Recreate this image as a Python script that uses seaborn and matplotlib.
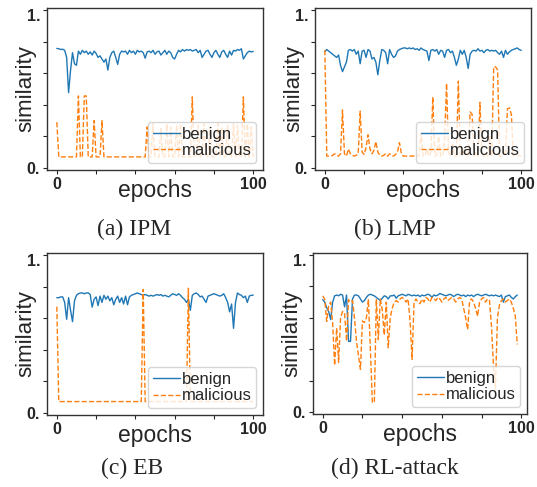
import matplotlib
matplotlib.use("Agg")
import matplotlib.pyplot as plt
import matplotlib.transforms as mtransforms
import seaborn as sns
import pandas as pd

# ---------------- data ----------------
epochs_101 = list(range(101))
epochs_99 = list(range(99))

ipm_benign = [0.757, 0.755, 0.75, 0.752, 0.745, 0.70, 0.477, 0.62, 0.73, 0.66, 0.65, 0.74, 0.72, 0.745, 0.73, 0.74, 0.72, 0.735, 0.715, 0.74,
              0.725, 0.70, 0.71, 0.69, 0.67, 0.69, 0.62, 0.70, 0.73, 0.74, 0.70, 0.656, 0.72, 0.74, 0.735, 0.74, 0.72, 0.745, 0.73, 0.74,
              0.72, 0.745, 0.735, 0.74, 0.73, 0.695, 0.735, 0.74, 0.73, 0.745, 0.72, 0.735, 0.74, 0.715, 0.73, 0.745, 0.72, 0.74, 0.73, 0.70,
              0.69, 0.72, 0.745, 0.735, 0.75, 0.74, 0.75, 0.745, 0.75, 0.74, 0.745, 0.75, 0.73, 0.745, 0.70, 0.72, 0.74, 0.745, 0.72, 0.70,
              0.73, 0.745, 0.72, 0.70, 0.735, 0.745, 0.72, 0.70, 0.74, 0.715, 0.745, 0.74, 0.75, 0.745, 0.755, 0.69, 0.71, 0.73, 0.74, 0.735,
              0.738]
ipm_malicious = [0.29, 0.07, 0.07, 0.07, 0.07, 0.07, 0.07, 0.07, 0.07, 0.07, 0.07, 0.456, 0.07, 0.07, 0.456, 0.456, 0.07, 0.07, 0.07, 0.30,
                 0.07, 0.07, 0.07, 0.30, 0.07, 0.07, 0.07, 0.07, 0.07, 0.07, 0.07, 0.07, 0.07, 0.07, 0.07, 0.07, 0.07, 0.07, 0.07, 0.07,
                 0.07, 0.07, 0.07, 0.07, 0.07, 0.07, 0.26, 0.07, 0.07, 0.28, 0.07, 0.07, 0.07, 0.25, 0.07, 0.07, 0.28, 0.07, 0.26, 0.07,
                 0.07, 0.27, 0.07, 0.28, 0.07, 0.07, 0.07, 0.07, 0.07, 0.45, 0.07, 0.07, 0.27, 0.07, 0.07, 0.28, 0.07, 0.07, 0.26, 0.07,
                 0.07, 0.07, 0.28, 0.07, 0.26, 0.07, 0.07, 0.27, 0.07, 0.07, 0.28, 0.07, 0.27, 0.07, 0.07, 0.45, 0.07, 0.28, 0.07, 0.26,
                 0.07]

lmp_benign = [0.736, 0.75, 0.74, 0.73, 0.72, 0.71, 0.70, 0.715, 0.65, 0.61, 0.64, 0.67, 0.745, 0.75, 0.74, 0.75, 0.72, 0.74, 0.66, 0.74,
              0.745, 0.70, 0.75, 0.74, 0.69, 0.70, 0.67, 0.59, 0.68, 0.75, 0.745, 0.73, 0.66, 0.75, 0.72, 0.70, 0.71, 0.74, 0.75, 0.755,
              0.76, 0.76, 0.755, 0.76, 0.755, 0.76, 0.75, 0.755, 0.745, 0.76, 0.75, 0.745, 0.74, 0.68, 0.745, 0.75, 0.74, 0.75, 0.72, 0.745,
              0.74, 0.70, 0.745, 0.75, 0.73, 0.74, 0.70, 0.65, 0.69, 0.745, 0.72, 0.745, 0.70, 0.63, 0.72, 0.74, 0.745, 0.74, 0.755, 0.74,
              0.745, 0.73, 0.745, 0.75, 0.74, 0.745, 0.74, 0.745, 0.73, 0.72, 0.74, 0.70, 0.745, 0.72, 0.735, 0.745, 0.75, 0.755, 0.76, 0.75,
              0.745]
lmp_malicious = [0.746, 0.075, 0.075, 0.075, 0.08, 0.09, 0.08, 0.075, 0.09, 0.367, 0.09, 0.075, 0.12, 0.09, 0.08, 0.075, 0.08, 0.09, 0.36, 0.10,
                 0.085, 0.13, 0.21, 0.12, 0.09, 0.11, 0.167, 0.10, 0.08, 0.075, 0.08, 0.09, 0.075, 0.09, 0.08, 0.075, 0.085, 0.10, 0.16, 0.09,
                 0.075, 0.075, 0.075, 0.075, 0.075, 0.075, 0.08, 0.075, 0.075, 0.22, 0.075, 0.075, 0.12, 0.075, 0.10, 0.45, 0.075, 0.08, 0.20, 0.075,
                 0.075, 0.18, 0.536, 0.10, 0.075, 0.15, 0.075, 0.075, 0.55, 0.09, 0.075, 0.12, 0.075, 0.075, 0.355, 0.34, 0.075, 0.10, 0.075, 0.415,
                 0.075, 0.075, 0.10, 0.075, 0.20, 0.075, 0.64, 0.64, 0.62, 0.075, 0.075, 0.10, 0.075, 0.375, 0.38, 0.34, 0.075, 0.09, 0.075, 0.08,
                 0.075]

eb_benign = [0.73, 0.73, 0.735, 0.735, 0.70, 0.593, 0.73, 0.65, 0.578, 0.71, 0.745, 0.755, 0.76, 0.76, 0.755, 0.76, 0.76, 0.75, 0.67, 0.72,
             0.735, 0.68, 0.74, 0.70, 0.745, 0.72, 0.74, 0.71, 0.73, 0.685, 0.72, 0.74, 0.70, 0.73, 0.69, 0.74, 0.685, 0.735, 0.745, 0.75,
             0.755, 0.76, 0.755, 0.75, 0.745, 0.75, 0.745, 0.74, 0.745, 0.74, 0.745, 0.75, 0.745, 0.75, 0.74, 0.745, 0.74, 0.735, 0.745, 0.755,
             0.75, 0.745, 0.755, 0.745, 0.73, 0.72, 0.70, 0.72, 0.65, 0.745, 0.755, 0.76, 0.75, 0.735, 0.74, 0.72, 0.70, 0.74, 0.745, 0.75,
             0.755, 0.75, 0.745, 0.74, 0.745, 0.755, 0.73, 0.70, 0.64, 0.69, 0.536, 0.70, 0.76, 0.75, 0.745, 0.73, 0.74, 0.70, 0.74, 0.745,
             0.746]
eb_malicious = [0.673, 0.072, 0.072, 0.072, 0.072, 0.072, 0.072, 0.072, 0.072, 0.072, 0.072, 0.072, 0.072, 0.072, 0.072, 0.072, 0.072, 0.072, 0.072, 0.072,
                0.072, 0.072, 0.072, 0.072, 0.072, 0.072, 0.072, 0.072, 0.072, 0.072, 0.072, 0.072, 0.072, 0.072, 0.072, 0.072, 0.072, 0.072, 0.072, 0.072,
                0.072, 0.072, 0.072, 0.072, 0.782, 0.072, 0.072, 0.072, 0.072, 0.072, 0.072, 0.072, 0.072, 0.072, 0.072, 0.072, 0.072, 0.072, 0.072, 0.072,
                0.072, 0.072, 0.072, 0.072, 0.072, 0.072, 0.072, 0.79, 0.072, 0.072, 0.072, 0.072, 0.072, 0.072, 0.072, 0.072, 0.072, 0.072, 0.072, 0.072,
                0.072, 0.072, 0.072, 0.072, 0.072, 0.072, 0.072, 0.072, 0.072, 0.072, 0.072, 0.072, 0.072, 0.072, 0.072, 0.072, 0.072, 0.072, 0.072, 0.072,
                0.072]

rl_benign = [0.716, 0.70, 0.663, 0.64, 0.589, 0.70, 0.74, 0.745, 0.74, 0.75, 0.745, 0.67, 0.745, 0.45, 0.45, 0.72, 0.745, 0.745, 0.74, 0.72,
             0.70, 0.71, 0.73, 0.745, 0.75, 0.745, 0.74, 0.73, 0.72, 0.71, 0.725, 0.74, 0.735, 0.72, 0.74, 0.74, 0.745, 0.725, 0.74, 0.745,
             0.75, 0.745, 0.74, 0.75, 0.745, 0.74, 0.745, 0.74, 0.745, 0.735, 0.745, 0.74, 0.745, 0.75, 0.745, 0.73, 0.745, 0.74, 0.745, 0.755,
             0.75, 0.745, 0.74, 0.745, 0.75, 0.745, 0.735, 0.745, 0.75, 0.745, 0.74, 0.745, 0.735, 0.745, 0.74, 0.745, 0.735, 0.745, 0.75, 0.745,
             0.74, 0.745, 0.75, 0.745, 0.74, 0.745, 0.74, 0.745, 0.74, 0.735, 0.745, 0.70, 0.735, 0.74, 0.745, 0.73, 0.72, 0.735, 0.745]
rl_malicious = [0.74, 0.72, 0.577, 0.68, 0.70, 0.565, 0.297, 0.535, 0.316, 0.60, 0.641, 0.63, 0.452, 0.716, 0.70, 0.71, 0.60, 0.45, 0.36, 0.272,
                0.58, 0.57, 0.60, 0.716, 0.40, 0.061, 0.061, 0.72, 0.462, 0.72, 0.65, 0.49, 0.70, 0.409, 0.60, 0.66, 0.70, 0.71, 0.70, 0.72,
                0.73, 0.72, 0.70, 0.72, 0.58, 0.335, 0.70, 0.72, 0.70, 0.69, 0.72, 0.70, 0.73, 0.72, 0.70, 0.73, 0.72, 0.71, 0.73, 0.72,
                0.70, 0.72, 0.73, 0.71, 0.72, 0.73, 0.72, 0.70, 0.72, 0.73, 0.72, 0.66, 0.60, 0.525, 0.71, 0.72, 0.70, 0.66, 0.61, 0.70,
                0.72, 0.73, 0.70, 0.72, 0.71, 0.55, 0.297, 0.146, 0.60, 0.68, 0.71, 0.72, 0.70, 0.71, 0.72, 0.70, 0.66, 0.61, 0.43]

captions = ["(a) IPM", "(b) LMP", "(c) EB", "(d) RL-attack"]
series_labels = ["benign", "malicious"]
x_tick_values = [0, 20, 40, 60, 80, 100]
x_tick_labels = ["0", "", "", "", "", "100"]
y_tick_values = [0.0, 0.2, 0.4, 0.6, 0.8, 1.0]
y_tick_labels = ["0.", "", "", "", "", "1."]

panels = [
    (epochs_101, ipm_benign, ipm_malicious),
    (epochs_101, lmp_benign, lmp_malicious),
    (epochs_101, eb_benign, eb_malicious),
    (epochs_99, rl_benign, rl_malicious),
]

# ---------------- style ----------------
sns.set_style("ticks")
plt.rcParams["font.family"] = ["Liberation Sans", "DejaVu Sans"]
plt.rcParams["axes.edgecolor"] = "#333333"
plt.rcParams["axes.linewidth"] = 1.0

fig = plt.figure(figsize=(5.37, 4.87), dpi=100)

W, H = 537.0, 487.0
rects = [
    (47, 8, 216, 162),
    (315, 8, 216, 162),
    (47, 253, 216, 162),
    (313, 253, 214, 161),
]
caption_pos = [(134, 229), (395, 229), (132, 468), (395, 468)]

blue = "#1f77b4"
orange = "#ff7f0e"

for i, ((xs, ben, mal), (l, t, w, h)) in enumerate(zip(panels, rects)):
    ax = fig.add_axes([l / W, 1 - (t + h) / H, w / W, h / H])
    df = pd.DataFrame({"epoch": xs, "benign": ben, "malicious": mal})
    sns.lineplot(data=df, x="epoch", y="benign", ax=ax, color=blue, lw=1.0,
                 label=series_labels[0])
    sns.lineplot(data=df, x="epoch", y="malicious", ax=ax, color=orange, lw=1.0,
                 linestyle="--", label=series_labels[1])
    ax.set_ylim(-0.013, 1.013)
    ax.set_xticks(x_tick_values)
    ax.set_xticklabels(x_tick_labels, fontweight="bold", fontsize=11.5)
    ax.set_yticks(y_tick_values)
    ax.set_yticklabels(y_tick_labels, fontweight="bold", fontsize=11.5)
    ax.tick_params(axis="both", length=3, width=0.8, pad=2)
    # reference places the top label slightly lower than its tick
    ylabels = ax.get_yticklabels()
    shift_top = mtransforms.ScaledTranslation(0, -5 / 100.0, fig.dpi_scale_trans)
    ylabels[-1].set_transform(ylabels[-1].get_transform() + shift_top)
    ax.set_xlabel("epochs", fontsize=16.5, labelpad=-9)
    ax.set_ylabel("similarity", fontsize=16, labelpad=-7)
    for s in ax.spines.values():
        s.set_visible(True)
    ax.legend(loc="lower right", fontsize=12, handlelength=1.6, handletextpad=0.1,
              labelspacing=0.1, borderpad=0.3, borderaxespad=0.4, framealpha=0.8)
    cx, cy = caption_pos[i]
    fig.text(cx / W, 1 - cy / H, captions[i], ha="center", va="center",
             fontsize=17, family=["Liberation Serif", "DejaVu Serif"])

fig.savefig("out.png", dpi=100)
